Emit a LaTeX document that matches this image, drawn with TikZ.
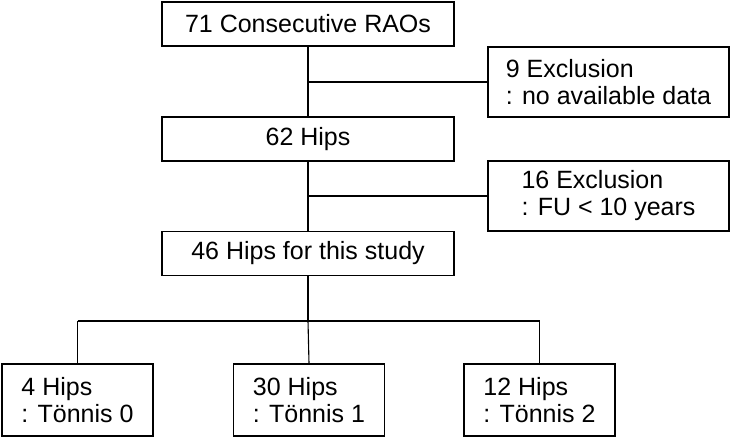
\documentclass[tikz,border=0pt]{standalone}
\usepackage{fontspec}
\setmainfont{Liberation Sans}
\begin{document}
\begin{tikzpicture}[x=1pt,y=-1pt,
  box/.style={draw=black, line width=1.3pt, inner sep=0pt, align=left,
    font=\fontsize{25}{27}\selectfont},
  wide/.style={box, minimum width=292pt, minimum height=44pt},
  excl/.style={box, minimum width=241pt, minimum height=70pt},
  leaf/.style={box, minimum width=151pt, minimum height=72pt},
  conn/.style={line width=1.1pt}]
\useasboundingbox (0,0) rectangle (731,437);
\node[wide] (top) at (308,24) {71 Consecutive RAOs};
\node[excl] (ex1) at (608.5,82) {9 Exclusion\\: no available data};
\node[wide] (h62) at (308,139) {62 Hips};
\node[excl] (ex2) at (608.5,196) {16 Exclusion\\: FU < 10 years};
\node[wide] (h46) at (308,253.5) {46 Hips for this study};
\node[leaf] (b1) at (77.5,400) {4 Hips\\: Tönnis 0};
\node[leaf] (b2) at (309,400) {30 Hips\\: Tönnis 1};
\node[leaf] (b3) at (539.5,400) {12 Hips\\: Tönnis 2};
\coordinate (j1) at (308,82);
\coordinate (j2) at (308,196);
\coordinate (j3) at (308,321);
\coordinate (l1) at (77.5,321);
\coordinate (l3) at (539.5,321);
\draw[conn] (top.south) -- (h62.north);
\draw[conn] (j1) -- (ex1.west);
\draw[conn] (h62.south) -- (h46.north);
\draw[conn] (j2) -- (ex2.west);
\draw[conn] (h46.south) -- (j3);
\draw[conn] (l1) -- (l3);
\draw[conn] (l1) -- (b1.north);
\draw[conn] (j3) -- (b2.north);
\draw[conn] (l3) -- (b3.north);
\end{tikzpicture}
\end{document}
